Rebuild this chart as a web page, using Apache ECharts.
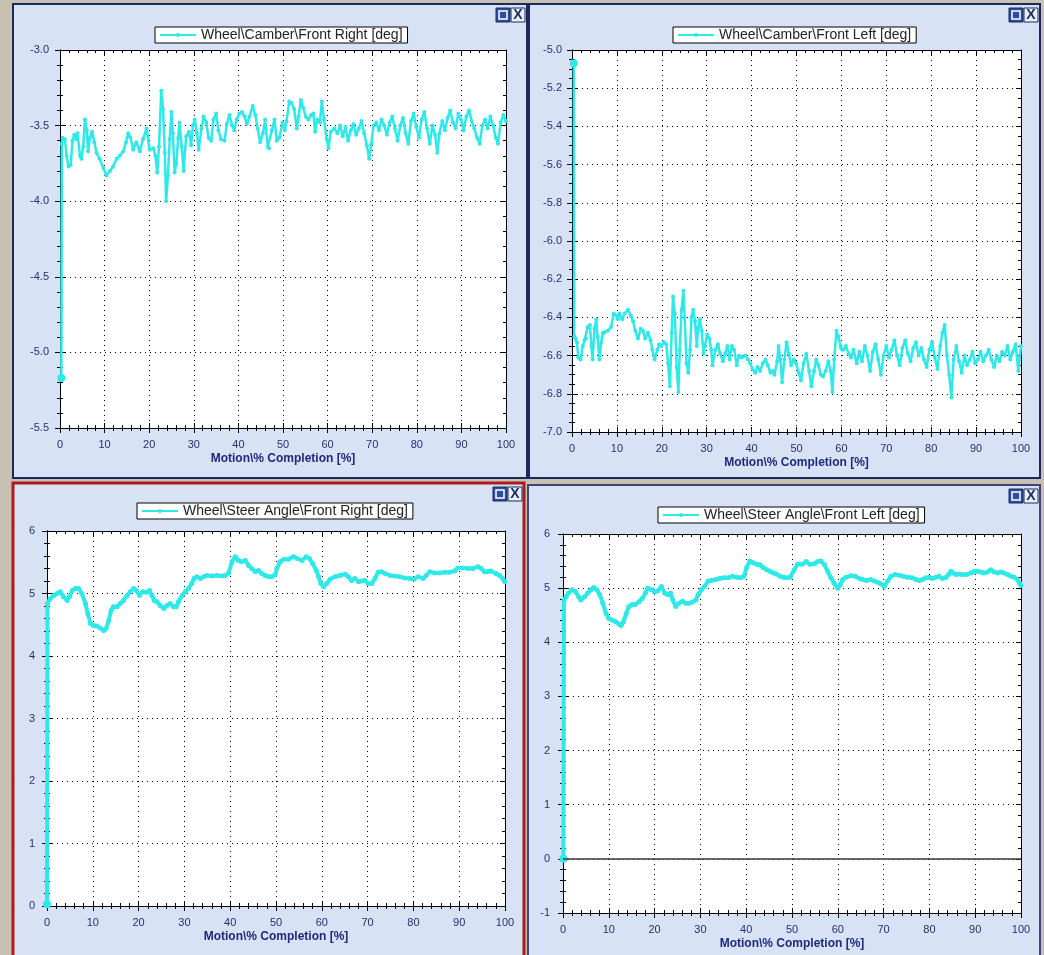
<!DOCTYPE html>
<html>
<head>
<meta charset="utf-8">
<script src="https://cdn.jsdelivr.net/npm/echarts@6/dist/echarts.min.js"></script>
<style>
html,body{margin:0;padding:0;background:#c8c0b2;}
#chart{width:1044px;height:955px;}
</style>
</head>
<body>
<div id="chart"></div>
<script>
// ---------- DATA ----------
const xName = 'Motion\\% Completion [%]';
const seriesNames = [
  'Wheel\\Camber\\Front Right [deg]',
  'Wheel\\Camber\\Front Left [deg]',
  'Wheel\\Steer Angle\\Front Right [deg]',
  'Wheel\\Steer Angle\\Front Left [deg]'
];
const xRange = [0, 100, 10];
const yRanges = [[-5.5, -3.0, 0.5], [-7.0, -5.0, 0.2], [0, 6, 1], [-1, 6, 1]];

const camberFR = [[0.3,-5.17],[0.4,-3.62],[0.6,-3.58],[1.1,-3.59],[1.5,-3.70],[1.9,-3.77],[2.4,-3.76],[2.8,-3.60],[3.2,-3.56],[3.7,-3.59],[3.9,-3.55],[4.5,-3.70],[4.8,-3.72],[5.2,-3.64],[5.6,-3.46],[6.0,-3.53],[6.3,-3.67],[6.7,-3.58],[7.2,-3.54],[7.7,-3.61],[8.2,-3.68],[8.9,-3.72],[9.7,-3.78],[10.4,-3.83],[11.2,-3.80],[11.9,-3.77],[12.7,-3.72],[13.4,-3.70],[14.2,-3.67],[14.8,-3.61],[15.3,-3.55],[15.8,-3.58],[16.4,-3.66],[17.1,-3.61],[17.9,-3.67],[18.6,-3.59],[19.4,-3.52],[20.1,-3.66],[20.9,-3.65],[21.4,-3.70],[21.8,-3.81],[22.2,-3.64],[22.7,-3.27],[23.1,-3.39],[23.5,-3.68],[23.8,-4.00],[24.2,-3.83],[24.6,-3.59],[25.0,-3.41],[25.3,-3.55],[25.7,-3.81],[26.1,-3.75],[26.5,-3.58],[26.8,-3.48],[27.3,-3.64],[27.7,-3.80],[28.3,-3.57],[28.9,-3.54],[29.4,-3.63],[29.8,-3.50],[30.2,-3.46],[30.7,-3.55],[31.1,-3.66],[31.7,-3.52],[32.2,-3.44],[32.8,-3.48],[33.3,-3.58],[33.9,-3.60],[34.4,-3.46],[35.0,-3.42],[35.5,-3.53],[36.1,-3.59],[36.9,-3.60],[37.4,-3.49],[38.0,-3.43],[38.6,-3.50],[39.1,-3.53],[39.6,-3.46],[40.2,-3.42],[40.8,-3.41],[41.4,-3.44],[41.9,-3.49],[42.5,-3.44],[43.2,-3.37],[43.8,-3.43],[44.3,-3.52],[44.9,-3.61],[45.5,-3.55],[46.0,-3.46],[46.6,-3.64],[46.9,-3.65],[47.5,-3.53],[48.1,-3.46],[48.6,-3.60],[49.2,-3.58],[49.9,-3.48],[50.4,-3.53],[50.8,-3.47],[51.4,-3.34],[51.9,-3.35],[52.5,-3.39],[53.1,-3.52],[53.5,-3.44],[54.0,-3.33],[54.5,-3.38],[55.1,-3.44],[55.7,-3.46],[56.3,-3.43],[56.8,-3.42],[57.2,-3.54],[57.7,-3.46],[58.3,-3.48],[58.7,-3.34],[59.2,-3.46],[59.8,-3.59],[60.2,-3.65],[60.7,-3.54],[61.5,-3.52],[62.2,-3.55],[62.8,-3.50],[63.4,-3.57],[64.0,-3.51],[64.6,-3.60],[65.2,-3.53],[65.8,-3.49],[66.4,-3.56],[67.0,-3.52],[67.6,-3.47],[68.2,-3.55],[68.8,-3.63],[69.3,-3.72],[69.8,-3.62],[70.3,-3.50],[70.9,-3.48],[71.5,-3.53],[72.1,-3.46],[72.7,-3.50],[73.3,-3.56],[73.9,-3.48],[74.5,-3.44],[75.1,-3.52],[75.7,-3.60],[76.3,-3.50],[76.9,-3.45],[77.5,-3.55],[78.1,-3.62],[78.7,-3.47],[79.3,-3.42],[79.9,-3.51],[80.5,-3.58],[81.1,-3.46],[81.7,-3.41],[82.3,-3.52],[82.9,-3.62],[83.5,-3.50],[84.1,-3.56],[84.6,-3.68],[85.1,-3.55],[85.7,-3.47],[86.3,-3.53],[86.9,-3.45],[87.5,-3.40],[88.1,-3.48],[88.7,-3.52],[89.3,-3.42],[89.9,-3.46],[90.5,-3.53],[91.1,-3.44],[91.7,-3.40],[92.3,-3.47],[92.9,-3.52],[93.5,-3.58],[94.1,-3.62],[94.7,-3.50],[95.3,-3.46],[95.9,-3.52],[96.5,-3.44],[97.1,-3.50],[97.7,-3.58],[98.2,-3.62],[98.8,-3.48],[99.4,-3.43],[100,-3.47]];

const camberFL = [[0.4,-5.07],[0.5,-6.50],[0.8,-6.51],[1.1,-6.53],[1.4,-6.61],[1.9,-6.62],[2.4,-6.55],[2.8,-6.52],[3.1,-6.51],[3.5,-6.45],[4.0,-6.44],[4.3,-6.55],[4.6,-6.62],[5.0,-6.46],[5.4,-6.41],[5.7,-6.50],[6.1,-6.62],[6.5,-6.53],[6.9,-6.48],[7.2,-6.48],[8.0,-6.47],[8.7,-6.45],[9.3,-6.38],[9.9,-6.39],[10.2,-6.41],[10.6,-6.38],[11.2,-6.41],[11.7,-6.38],[12.5,-6.36],[13.1,-6.39],[13.6,-6.42],[14.1,-6.47],[14.7,-6.51],[15.3,-6.46],[15.8,-6.47],[16.3,-6.51],[16.9,-6.48],[17.5,-6.52],[17.9,-6.57],[18.4,-6.62],[19.0,-6.57],[19.4,-6.54],[19.9,-6.55],[20.5,-6.53],[21.0,-6.54],[21.4,-6.64],[21.8,-6.76],[22.2,-6.48],[22.5,-6.29],[22.9,-6.38],[23.3,-6.66],[23.7,-6.79],[24.0,-6.57],[24.4,-6.36],[24.8,-6.26],[25.1,-6.40],[25.5,-6.64],[25.9,-6.69],[26.3,-6.57],[26.6,-6.40],[27.0,-6.36],[27.4,-6.42],[27.8,-6.55],[28.1,-6.45],[28.5,-6.41],[28.9,-6.47],[29.3,-6.59],[29.6,-6.55],[30.1,-6.49],[30.6,-6.51],[31.0,-6.57],[31.3,-6.65],[31.9,-6.57],[32.5,-6.54],[33.0,-6.59],[33.6,-6.63],[34.1,-6.59],[34.6,-6.55],[35.1,-6.62],[35.6,-6.55],[36.1,-6.57],[36.7,-6.65],[37.2,-6.60],[37.8,-6.61],[38.6,-6.60],[39.2,-6.62],[39.7,-6.64],[40.2,-6.67],[40.8,-6.69],[41.3,-6.66],[41.9,-6.68],[42.5,-6.64],[43.1,-6.62],[43.6,-6.65],[44.2,-6.69],[44.7,-6.68],[45.1,-6.70],[45.7,-6.63],[46.0,-6.55],[46.4,-6.62],[46.8,-6.74],[47.3,-6.62],[47.8,-6.53],[48.3,-6.59],[48.8,-6.65],[49.4,-6.62],[49.9,-6.64],[50.5,-6.69],[51.0,-6.73],[51.6,-6.64],[52.2,-6.59],[52.8,-6.68],[53.3,-6.76],[53.9,-6.68],[54.4,-6.62],[54.9,-6.65],[55.4,-6.70],[55.9,-6.71],[56.5,-6.68],[57.1,-6.63],[57.6,-6.68],[58.0,-6.79],[58.4,-6.62],[58.9,-6.47],[59.3,-6.50],[59.9,-6.56],[60.4,-6.57],[61.0,-6.55],[61.6,-6.59],[62.1,-6.61],[62.7,-6.57],[63.4,-6.64],[64.0,-6.58],[64.6,-6.63],[65.2,-6.55],[65.8,-6.60],[66.4,-6.68],[67.0,-6.58],[67.6,-6.54],[68.2,-6.62],[68.8,-6.70],[69.4,-6.60],[70.0,-6.55],[70.6,-6.61],[71.2,-6.57],[71.8,-6.52],[72.4,-6.60],[73.0,-6.65],[73.6,-6.56],[74.2,-6.52],[74.8,-6.59],[75.4,-6.63],[76.0,-6.56],[76.6,-6.53],[77.2,-6.60],[77.8,-6.56],[78.4,-6.62],[79.0,-6.66],[79.6,-6.57],[80.2,-6.53],[80.8,-6.61],[81.4,-6.67],[82.0,-6.55],[82.5,-6.48],[83.0,-6.44],[83.5,-6.60],[84.0,-6.70],[84.5,-6.82],[85.0,-6.62],[85.6,-6.55],[86.2,-6.63],[86.8,-6.69],[87.4,-6.60],[88.0,-6.65],[88.6,-6.62],[89.2,-6.58],[89.8,-6.64],[90.4,-6.62],[91.0,-6.58],[91.6,-6.63],[92.2,-6.60],[92.8,-6.57],[93.4,-6.62],[94.0,-6.66],[94.6,-6.60],[95.2,-6.63],[95.8,-6.58],[96.4,-6.60],[97.0,-6.55],[97.6,-6.62],[98.2,-6.58],[98.8,-6.54],[99.4,-6.68],[100,-6.55]];

const steerFR = [[0,0.03],[0.1,4.84],[0.7,4.92],[1.5,4.97],[2.2,5.00],[2.9,5.03],[3.6,4.95],[4.4,4.89],[4.9,4.95],[5.5,5.05],[6.2,5.08],[6.9,5.08],[7.6,5.00],[8.4,4.84],[8.9,4.68],[9.5,4.52],[10.2,4.49],[10.9,4.48],[11.6,4.45],[12.4,4.41],[12.9,4.44],[13.5,4.57],[14.0,4.73],[14.5,4.79],[15.3,4.79],[16.0,4.84],[16.7,4.89],[17.5,4.97],[18.2,5.03],[18.9,5.08],[19.5,5.05],[20.2,4.97],[20.9,5.03],[21.7,5.02],[22.4,5.05],[22.9,4.97],[23.4,4.89],[24.0,4.87],[24.7,4.81],[25.5,4.76],[26.2,4.81],[26.9,4.84],[27.6,4.79],[28.2,4.79],[28.7,4.87],[29.5,4.97],[30.2,5.03],[30.9,5.08],[31.6,5.16],[32.1,5.24],[32.7,5.27],[33.5,5.24],[34.2,5.27],[34.9,5.29],[36.0,5.28],[37.1,5.29],[38.2,5.28],[38.9,5.29],[39.6,5.32],[40.4,5.51],[41.1,5.59],[41.8,5.53],[42.5,5.51],[43.3,5.53],[44.0,5.45],[44.7,5.40],[45.5,5.35],[46.2,5.37],[46.9,5.32],[47.6,5.29],[48.4,5.27],[49.1,5.27],[49.8,5.30],[50.2,5.40],[50.9,5.51],[51.7,5.55],[52.8,5.55],[53.8,5.59],[54.6,5.56],[55.7,5.53],[56.6,5.59],[57.3,5.56],[58.0,5.48],[58.8,5.37],[59.3,5.27],[59.8,5.16],[60.4,5.11],[61.1,5.16],[61.8,5.23],[62.9,5.27],[64.0,5.29],[65.1,5.31],[65.8,5.27],[66.5,5.21],[67.2,5.24],[68.0,5.19],[68.7,5.20],[69.4,5.21],[70.1,5.16],[70.9,5.16],[71.6,5.24],[72.3,5.34],[73.0,5.35],[73.8,5.32],[74.9,5.29],[75.9,5.28],[77.0,5.27],[78.1,5.25],[79.2,5.24],[80.1,5.23],[81.0,5.27],[82.1,5.24],[82.8,5.29],[83.6,5.35],[84.6,5.33],[85.7,5.33],[86.8,5.34],[87.9,5.34],[89.0,5.36],[89.7,5.41],[90.8,5.41],[91.9,5.40],[93.0,5.40],[94.1,5.43],[94.8,5.40],[95.5,5.35],[96.2,5.35],[96.9,5.36],[98.0,5.32],[98.8,5.29],[99.5,5.24],[100,5.19]];

const steerFL = [[0.1,0.0],[0.2,4.78],[0.7,4.84],[1.2,4.91],[2.0,4.97],[2.7,4.94],[3.4,4.84],[3.9,4.78],[4.7,4.84],[5.4,4.91],[6.1,4.97],[6.7,5.01],[7.4,4.97],[8.0,4.88],[8.7,4.72],[9.4,4.53],[10.0,4.44],[10.7,4.41],[11.5,4.38],[12.2,4.34],[12.7,4.31],[13.2,4.38],[13.8,4.53],[14.4,4.66],[15.1,4.70],[15.8,4.70],[16.6,4.75],[17.3,4.81],[18.0,4.91],[18.5,5.00],[19.3,4.97],[20.0,4.93],[20.7,4.95],[21.5,5.03],[22.2,4.91],[22.9,4.88],[23.5,4.91],[24.0,4.78],[24.6,4.66],[25.3,4.72],[26.1,4.76],[26.8,4.72],[27.5,4.72],[28.2,4.74],[29.0,4.78],[29.5,4.88],[30.2,4.97],[30.9,5.03],[31.7,5.13],[32.4,5.14],[33.4,5.16],[34.2,5.18],[35.1,5.19],[36.1,5.19],[37.0,5.22],[37.9,5.20],[38.8,5.19],[39.5,5.22],[40.1,5.38],[40.8,5.50],[41.5,5.47],[42.3,5.44],[43.0,5.43],[43.7,5.38],[44.5,5.34],[45.2,5.31],[45.9,5.28],[46.6,5.26],[47.4,5.22],[48.1,5.20],[48.8,5.19],[49.6,5.20],[50.5,5.34],[51.2,5.44],[52.2,5.44],[53.1,5.49],[53.9,5.44],[54.9,5.45],[55.6,5.49],[56.3,5.50],[57.1,5.43],[57.8,5.31],[58.5,5.19],[59.2,5.09],[60.0,5.00],[60.5,5.06],[61.1,5.16],[61.8,5.20],[62.9,5.23],[63.8,5.22],[64.7,5.18],[65.4,5.16],[66.3,5.14],[67.2,5.16],[68.0,5.13],[68.7,5.11],[69.4,5.08],[70.1,5.03],[70.9,5.13],[71.6,5.22],[72.5,5.25],[73.4,5.24],[74.3,5.22],[75.2,5.20],[76.2,5.19],[77.1,5.16],[77.8,5.14],[78.5,5.16],[79.2,5.19],[80.0,5.20],[80.7,5.18],[81.4,5.20],[82.1,5.22],[82.9,5.18],[83.6,5.20],[84.2,5.25],[84.7,5.31],[85.2,5.28],[85.8,5.25],[86.5,5.26],[87.2,5.25],[88.1,5.25],[89.1,5.28],[89.8,5.31],[90.5,5.31],[91.2,5.30],[91.9,5.28],[92.7,5.30],[93.4,5.34],[94.1,5.30],[94.9,5.28],[95.6,5.30],[96.3,5.28],[97.1,5.25],[97.8,5.22],[98.5,5.20],[99.2,5.16],[99.7,5.09],[100,5.05]];

const seriesData = [camberFR, camberFL, steerFR, steerFL];
const zeroLineValue = 0;

// ---------- LAYOUT / STYLE ----------
const FONT = 'Liberation Sans, Arial, sans-serif';
const CYAN = '#2fe8e8';
const LABEL = '#2a2f6e';
const TITLE = '#1f2a7a';
const grids = [
  {left:60, top:50, width:446, height:378},
  {left:572, top:50, width:449, height:382},
  {left:47, top:531, width:458, height:375},
  {left:563, top:534, width:458, height:379}
];
const yMinor = [5, 4, 5, 5];
const yDec = [1, 1, 0, 0];
const yMargin = [11, 10, 12, 13];
const xMargin = [11, 11, 11, 11];
const nameGaps = [25, 25, 25, 25];
const legendPos = [{left:155, top:27}, {left:673, top:27}, {left:137, top:503}, {left:658, top:507}];
const frames = [
  {x:13, y:4, w:514, h:474, stroke:'#1b2a5e', lw:2},
  {x:529, y:4, w:511, h:474, stroke:'#1b2a5e', lw:2},
  {x:13, y:483, w:511, h:480, stroke:'#b01a1c', lw:3},
  {x:528, y:485, w:512, h:480, stroke:'#3a4878', lw:2}
];

const tickLine = {color:'#000', width:1};
const xAxes = [], yAxes = [], series = [], legends = [], graphics = [];

frames.forEach((f, i) => {
  graphics.push({type:'rect', z:-10, shape:{x:f.x, y:f.y, width:f.w, height:f.h},
    style:{fill:'#d7e2f5', stroke:f.stroke, lineWidth:f.lw}});
  const ix = f.x + f.w - 31, iy = f.y + 4;
  graphics.push({type:'rect', z:-9, shape:{x:ix, y:iy, width:14, height:14},
    style:{fill:'#2e4f9e', stroke:'#1b2a5e', lineWidth:1}});
  graphics.push({type:'rect', z:-8, shape:{x:ix+3, y:iy+3, width:8, height:8},
    style:{fill:'none', stroke:'#fff', lineWidth:1.5}});
  graphics.push({type:'rect', z:-9, shape:{x:ix+15, y:iy, width:14, height:14},
    style:{fill:'#e9effb', stroke:'#1b2a5e', lineWidth:1}});
  graphics.push({type:'text', z:-8, x:ix+22, y:iy+7.5,
    style:{text:'X', fill:'#1b2a5e', font:'bold 14px ' + FONT, align:'center', verticalAlign:'middle'}});
});

grids.forEach((g, i) => {
  const base = {gridIndex:i, type:'value', min:xRange[0], max:xRange[1], interval:xRange[2]};
  const line = {show:true, onZero:false, lineStyle:{color:'#000', width:1}};
  const minor = {show:true, splitNumber:5, length:3, lineStyle:tickLine};
  xAxes.push(Object.assign({}, base, {position:'bottom', axisLine:line,
    axisTick:{show:true, inside:false, length:5, lineStyle:tickLine}, minorTick:minor,
    axisLabel:{color:LABEL, fontSize:11, fontFamily:FONT, margin:xMargin[i]},
    splitLine:{show:true, lineStyle:{color:'#000', width:1, type:[1,4]}},
    name:xName, nameLocation:'middle', nameGap:nameGaps[i],
    nameTextStyle:{color:TITLE, fontSize:12, fontWeight:'bold', fontFamily:FONT}}));
  xAxes.push(Object.assign({}, base, {position:'bottom', axisLine:line,
    axisTick:{show:true, inside:true, length:5, lineStyle:tickLine}, minorTick:minor,
    axisLabel:{show:false}, splitLine:{show:false}}));
  xAxes.push(Object.assign({}, base, {position:'top', axisLine:line,
    axisTick:{show:true, inside:true, length:5, lineStyle:tickLine}, minorTick:minor,
    axisLabel:{show:false}, splitLine:{show:false}}));

  const yr = yRanges[i];
  const ybase = {gridIndex:i, type:'value', min:yr[0], max:yr[1], interval:yr[2]};
  const yminor = {show:true, splitNumber:yMinor[i], length:3, lineStyle:tickLine};
  yAxes.push(Object.assign({}, ybase, {position:'left', axisLine:line,
    axisTick:{show:true, inside:false, length:5, lineStyle:tickLine}, minorTick:yminor,
    axisLabel:{color:LABEL, fontSize:11, fontFamily:FONT, margin:yMargin[i],
      formatter:(v) => v.toFixed(yDec[i])},
    splitLine:{show:true, lineStyle:{color:'#000', width:1, type:[1,4]}}}));
  yAxes.push(Object.assign({}, ybase, {position:'left', axisLine:line,
    axisTick:{show:true, inside:true, length:5, lineStyle:tickLine}, minorTick:yminor,
    axisLabel:{show:false}, splitLine:{show:false}}));
  yAxes.push(Object.assign({}, ybase, {position:'right', axisLine:line,
    axisTick:{show:true, inside:true, length:5, lineStyle:tickLine}, minorTick:yminor,
    axisLabel:{show:false}, splitLine:{show:false}}));

  const s = {
    type:'line', name:seriesNames[i], data:seriesData[i],
    xAxisIndex:3*i, yAxisIndex:3*i,
    symbol:'circle', showAllSymbol:true,
    symbolSize:(v, p) => p.dataIndex === 0 ? 8 : (i < 2 ? 4 : 5),
    lineStyle:{color:CYAN, width:i < 2 ? 2.5 : 4},
    itemStyle:{color:CYAN},
    emphasis:{disabled:true}
  };
  if (i === 3) {
    s.markLine = {silent:true, symbol:'none', label:{show:false},
      lineStyle:{color:'#3a3a3a', width:1.5, type:'solid'},
      data:[{yAxis:zeroLineValue}]};
  }
  series.push(s);

  legends.push({
    data:[seriesNames[i]], left:legendPos[i].left, top:legendPos[i].top,
    orient:'horizontal', itemWidth:36, itemHeight:5,
    backgroundColor:'#fff', borderColor:'#000', borderWidth:1,
    padding:[1, 5, 1, 4], borderRadius:0,
    textStyle:{color:'#222', fontSize:14, fontFamily:FONT},
    selectedMode:false
  });
});

const chart = echarts.init(document.getElementById('chart'), null, {renderer:'canvas'});
chart.setOption({
  backgroundColor:'#c8c0b2',
  animation:false,
  graphic:graphics,
  grid:grids.map(g => Object.assign({show:true, backgroundColor:'#fff', borderWidth:0}, g)),
  xAxis:xAxes,
  yAxis:yAxes,
  legend:legends,
  series:series
});
</script>
</body>
</html>
